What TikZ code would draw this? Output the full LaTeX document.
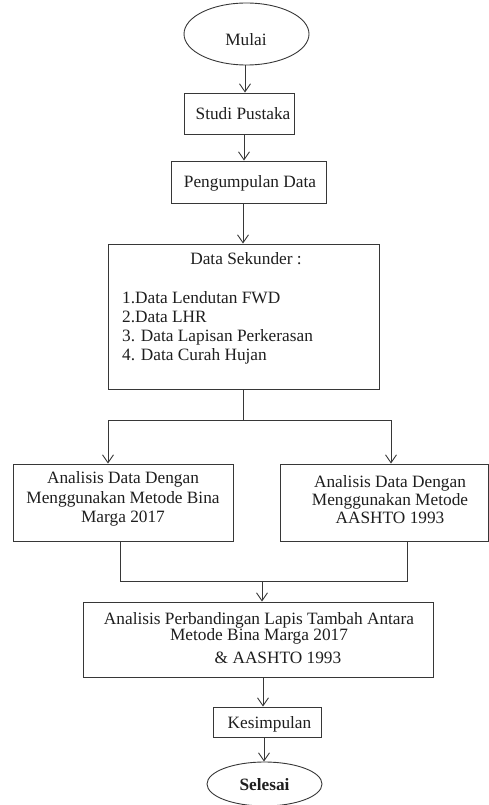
\documentclass[tikz,border=0pt]{standalone}
\usepackage{fontspec}
\setmainfont{Liberation Serif}
\usetikzlibrary{shapes.geometric,arrows.meta,calc}
\definecolor{ln}{RGB}{55,55,55}
\definecolor{tx}{RGB}{30,30,30}
\tikzset{
  frame/.style={draw=ln,line width=0.9pt,rectangle,inner sep=0pt},
  oval/.style={draw=ln,line width=0.9pt,ellipse,inner sep=0pt},
  lbl/.style={anchor=base,inner sep=0pt,text=tx,font=\fontsize{17.3}{20}\selectfont},
  lbll/.style={lbl,anchor=base west},
  conn/.style={draw=ln,line width=0.9pt},
  arr/.style={conn,-{Straight Barb[length=8pt,width=11pt,line width=0.9pt]}},
}
\begin{document}
\begin{tikzpicture}[x=1pt,y=-1pt]
\useasboundingbox (0,0) rectangle (489,805);
% shapes
\node[oval,minimum width=125pt,minimum height=62pt] (mulai) at (246.5,34) {};
\node[frame,minimum width=110pt,minimum height=41pt] (studi) at (239,113.5) {};
\node[frame,minimum width=155pt,minimum height=42pt] (peng) at (248.5,182) {};
\node[frame,minimum width=271pt,minimum height=145pt] (ds) at (243.5,316.5) {};
\node[frame,minimum width=220pt,minimum height=77pt] (bm) at (123,502.5) {};
\node[frame,minimum width=208pt,minimum height=77pt] (aa) at (384,502.5) {};
\node[frame,minimum width=350pt,minimum height=75pt] (comp) at (258,639.5) {};
\node[frame,minimum width=108pt,minimum height=30pt] (kes) at (267,722) {};
\node[oval,minimum width=115pt,minimum height=44pt] (sel) at (264.5,784) {};
% texts
\node[lbl] (tmulai) at (246,46) {Mulai};
\node[lbl] (tstudi) at (243,120) {Studi Pustaka};
\node[lbl] (tpeng) at (250,188) {Pengumpulan Data};
\node[lbl] (tds) at (246,264) {Data Sekunder :};
\node[lbll] (l1) at (122,303) {1.Data Lendutan FWD};
\node[lbll] (l2) at (122,322) {2.Data LHR};
\node[lbll] (l3) at (122,341) {3. Data Lapisan Perkerasan};
\node[lbll] (l4) at (122,360) {4. Data Curah Hujan};
\node[lbl] (b1) at (123,483) {Analisis Data Dengan};
\node[lbl] (b2) at (123,503) {Menggunakan Metode Bina};
\node[lbl] (b3) at (123,522) {Marga 2017};
\node[lbl] (a1) at (390,487) {Analisis Data Dengan};
\node[lbl] (a2) at (390,505) {Menggunakan Metode};
\node[lbl] (a3) at (390,523) {AASHTO 1993};
\node[lbl] (c1) at (259,624) {Analisis Perbandingan Lapis Tambah Antara};
\node[lbl] (c2) at (259,640) {Metode Bina Marga 2017};
\node[lbl] (c3) at (278,663) {\& AASHTO 1993};
\node[lbl] (tkes) at (269.5,728) {Kesimpulan};
\node[lbl,font=\fontsize{17.3}{20}\selectfont\bfseries] (tsel) at (264.5,790) {Selesai};
% junction points
\coordinate (jds) at (243,420);
\coordinate (jl) at (108,420);
\coordinate (jr) at (391,420);
\coordinate (kl) at (120,581);
\coordinate (kr) at (407,581);
\coordinate (km) at (262,581);
% connectors
\draw[arr] (mulai.south -| 245,0) -- (studi.north -| 245,0);
\draw[arr] (studi.south -| 244,0) -- (peng.north -| 244,0);
\draw[arr] (peng.south -| 243,0) -- (ds.north -| 243,0);
\draw[conn] (ds.south -| jds) -- (jds);
\draw[conn] (jl) -- (jr);
\draw[arr] (jl) -- (bm.north -| jl);
\draw[arr] (jr) -- (aa.north -| jr);
\draw[conn] (bm.south -| kl) -- (kl) -- (kr) -- (aa.south -| kr);
\draw[arr] (km) -- (comp.north -| km);
\draw[arr] (comp.south -| 263,0) -- (kes.north -| 263,0);
\draw[arr] (kes.south -| 264,0) -- (sel.north -| 264,0);
\end{tikzpicture}
\end{document}
